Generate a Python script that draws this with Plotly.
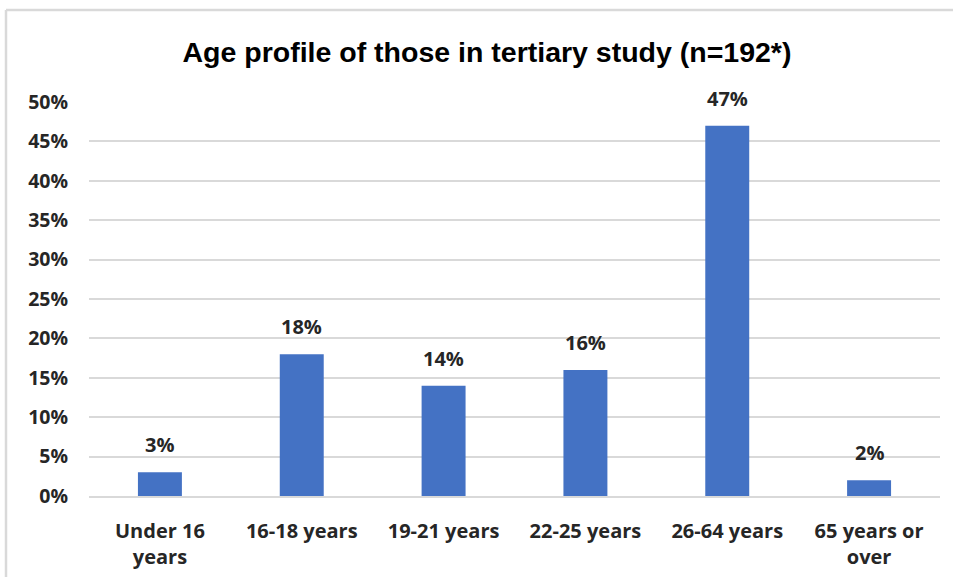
import plotly.graph_objects as go

categories = ["Under 16<br>years", "16-18 years", "19-21 years", "22-25 years", "26-64 years", "65 years or<br>over"]
values = [3, 18, 14, 16, 47, 2]
tick_vals = [0, 5, 10, 15, 20, 25, 30, 35, 40, 45, 50]
tick_text = [f"{v}%" for v in tick_vals]
labels = [f"{v}%" for v in values]

L, R, T, B = 89, 13, 102, 81
W, H = 953, 577
pw, ph = W - L - R, H - T - B

fig = go.Figure(go.Bar(
    x=categories, y=values,
    marker=dict(color="#4472C4", line=dict(width=0)),
    width=0.31, hoverinfo="x+y",
))

for c, v, t in zip(categories, values, labels):
    fig.add_annotation(x=c, y=v, text=f"<b>{t}</b>", showarrow=False, yanchor="bottom",
                       yshift=12, font=dict(family="Open Sans, Liberation Sans, sans-serif",
                                            size=20, color="#262626"))

fig.update_layout(
    width=W, height=H,
    margin=dict(l=L, r=R, t=T, b=B, autoexpand=False),
    paper_bgcolor="white", plot_bgcolor="white",
    title=dict(text="<b>Age profile of those in tertiary study (n=192*)</b>",
               x=(487 - L) / pw, xref="paper", y=1 - 52 / H, yanchor="middle", xanchor="center",
               font=dict(family="Liberation Sans, Arial, sans-serif", size=28.5, color="black")),
    showlegend=False,
    font=dict(family="Open Sans, Liberation Sans, sans-serif", color="#262626"),
)
fig.update_yaxes(range=[0, 50], tickvals=tick_vals, ticktext=tick_text, automargin=False,
                 showgrid=True, gridcolor="#d9d9d9", gridwidth=1.5, zeroline=False,
                 showline=False, ticks="", ticklabelstandoff=20,
                 tickfont=dict(size=19.5, color="#262626", weight="bold"))
fig.update_xaxes(showgrid=False, showline=True, linecolor="#d9d9d9", linewidth=1.5,
                 ticks="", ticklabelstandoff=16, automargin=False,
                 tickfont=dict(size=20, color="#262626", weight="bold"))

# chart frame (top and left edges)
fx = (6 - L) / pw
fy = (H - B - 10) / ph
fy0 = (H - B - H) / ph
fig.add_shape(type="line", xref="paper", yref="paper", x0=fx, x1=(W - L) / pw, y0=fy, y1=fy,
              line=dict(color="#d9d9d9", width=2.5))
fig.add_shape(type="line", xref="paper", yref="paper", x0=fx, x1=fx, y0=fy0, y1=fy,
              line=dict(color="#d9d9d9", width=2.5))

fig.write_html("out.html", config={"displayModeBar": False},
               post_script="document.body.style.margin='0px';document.body.style.overflow='hidden';")
